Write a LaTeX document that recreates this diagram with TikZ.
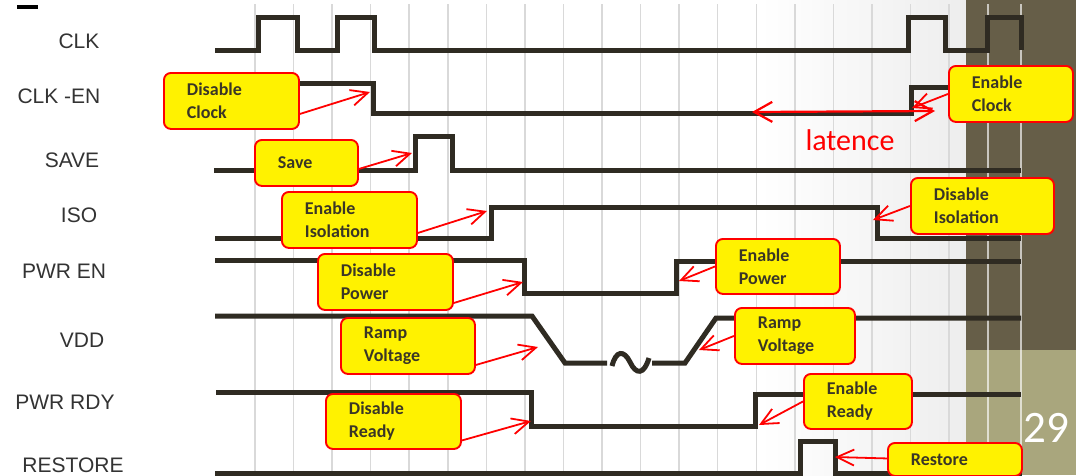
\documentclass[tikz,border=0pt]{standalone}
\usepackage{fontspec}
\newfontfamily\sigfont{Liberation Sans}
\newfontfamily\calfont{Carlito}
\usetikzlibrary{arrows.meta,calc}
\definecolor{Wave}{HTML}{2F2B22}
\definecolor{Grid}{HTML}{D9D9D9}
\definecolor{Olive}{HTML}{665E48}
\definecolor{Khaki}{HTML}{A9A67D}
\definecolor{Ink}{HTML}{333333}
\definecolor{Note}{HTML}{3A3626}
\tikzset{
 wave/.style={draw=Wave, line width=5pt, line join=miter},
 sig/.style={font=\sigfont\fontsize{21}{25}\selectfont, text=Ink, anchor=base, inner sep=0pt},
 callout/.style={draw=red, fill=yellow, line width=1.9pt, rounded corners=7pt, anchor=north west, align=left, inner xsep=23pt, inner ysep=0pt, font=\calfont\bfseries\fontsize{18}{23}\selectfont, text=Note},
 callarrow/.style={draw=red, line width=1.8pt, -{Straight Barb[length=17pt,width=16pt]}},
 gridline/.style={draw=Grid, line width=1.5pt}
}

\begin{document}
\begin{tikzpicture}[x=1pt,y=-1pt]
% background
\fill[white] (0,0) rectangle (1076,475);
\useasboundingbox (0,0) rectangle (1076,475);
\shade[left color=white, right color=black!7] (760,0) rectangle (966,475);
\foreach \k in {0,...,18}
  \draw[gridline] ({255+38.56*\k},4) -- ({255+38.56*\k},475);
\fill[Olive] (966,0) rectangle (1076,350);
\fill[Khaki] (966,350) rectangle (1076,475);
\draw[white, opacity=0.65, line width=1.5pt] (988,4) -- (988,475);
\draw[white, opacity=0.65, line width=1.5pt] (1021,4) -- (1021,475);
\fill[black] (17,4.5) rectangle (38,8.5);

% signal names
\node[sig] (lclk) at (79,48) {CLK};
\node[sig] (lclken) at (59,103) {CLK -EN};
\node[sig] (lsave) at (72,167) {SAVE};
\node[sig] (liso) at (79,222) {ISO};
\node[sig] (lpwren) at (64,278) {PWR EN};
\node[sig] (lvdd) at (82,347) {VDD};
\node[sig] (lpwrrdy) at (65,409) {PWR RDY};
\node[sig] (lrestore) at (73,472) {RESTORE};

% waveforms
\draw[wave] (215,50) -| (258,17) -| (297,50) -| (337,17) -| (374,50) -| (908,17) -| (945,50) -| (987,17) -| (1021,50);
\draw[wave] (216,83) -| (373,113) -| (911,87) -- (1020,87);
\draw[wave] (214,170) -| (415,136) -| (452,170) -- (1021,170);
\draw[wave] (215,238) -| (491,207) -| (877,238) -- (1021,238);
\draw[wave] (215,260) -| (524,293) -| (676,261) -- (1021,261);
\draw[wave] (215,316) -- (532,316) -- (565,363) -- (607,363);
\draw[wave] (612,366) .. controls (616,350) and (624,350) .. (630,362) .. controls (636,375) and (644,375) .. (649,358);
\draw[wave] (652,363) -- (685,363) -- (716,318) -- (1021,318);
\draw[wave] (216,392) -| (531,426) -| (755,394) -- (1021,394);
\draw[wave] (215,473) -| (800,441) -| (835,473) -- (1022,473);

% arrow tips
\coordinate (tclken) at (370,92);
\coordinate (tclkon) at (912,108);
\coordinate (tsave) at (412,153);
\coordinate (tisoon) at (487,211);
\coordinate (tpwroff) at (523,282);
\coordinate (tisooff) at (873,220);
\coordinate (tpwron) at (679,281);
\coordinate (tvddoff) at (538,347);
\coordinate (tvddon) at (699,350);
\coordinate (trdyoff) at (531,421);
\coordinate (trdyon) at (759,425);
\coordinate (trestore) at (835,457);
\coordinate (latL) at (752,112);
\coordinate (latR) at (935,111);

% callouts
\node[callout, text width=89pt, minimum height=56pt] (dclk) at (163,72) {Disable\\Clock};
\node[callout, text width=78pt, minimum height=56pt] (eclk) at (948,65) {Enable\\Clock};
\node[callout, text width=57pt, minimum height=46pt] (save) at (254,139) {Save};
\node[callout, text width=89pt, minimum height=56pt] (eiso) at (281,191) {Enable\\Isolation};
\node[callout, text width=89pt, minimum height=56pt] (dpwr) at (317,253) {Disable\\Power};
\node[callout, text width=97pt, minimum height=56pt] (diso) at (910,177) {Disable\\Isolation};
\node[callout, text width=78pt, minimum height=55pt] (epwr) at (715,238) {Enable\\Power};
\node[callout, text width=88pt, minimum height=56pt] (rvl) at (340,317) {Ramp\\Voltage};
\node[callout, text width=74pt, minimum height=56pt] (rvr) at (734,307) {Ramp\\Voltage};
\node[callout, text width=89pt, minimum height=55pt] (drdy) at (325,393) {Disable\\Ready};
\node[callout, text width=62pt, minimum height=55pt] (erdy) at (803,373) {Enable\\Ready};
\node[callout, text width=88pt, minimum height=33pt] (rest) at (887,442) {Restore};

\draw[callarrow] ([yshift=-13pt]dclk.east) -- (tclken);
\draw[callarrow] (eclk.west) -- (tclkon);
\draw[callarrow] ([yshift=-6pt]save.east) -- (tsave);
\draw[callarrow] ([yshift=-13pt]eiso.east) -- (tisoon);
\draw[callarrow] ([yshift=-21pt]dpwr.east) -- (tpwroff);
\draw[callarrow] (diso.west) -- (tisooff);
\draw[callarrow] (epwr.west) -- (tpwron);
\draw[callarrow] ([yshift=-19pt]rvl.east) -- (tvddoff);
\draw[callarrow] (rvr.west) -- (tvddon);
\draw[callarrow] ([yshift=-19pt]drdy.east) -- (trdyoff);
\draw[callarrow] (erdy.west) -- (trdyon);
\draw[callarrow] ([yshift=1pt]rest.west) -- (trestore);

% latency
\draw[red, line width=2.2pt, {Straight Barb[length=18pt,width=20pt]}-{Straight Barb[length=18pt,width=20pt]}] (latL) -- (latR);
\node[font=\calfont\fontsize{30}{34}\selectfont, text=red] (latence) at (850,140) {latence};
\node[font=\calfont\fontsize{45}{50}\selectfont, text=white, anchor=base, inner sep=0pt] (page) at (1046,442) {29};
\end{tikzpicture}
\end{document}
